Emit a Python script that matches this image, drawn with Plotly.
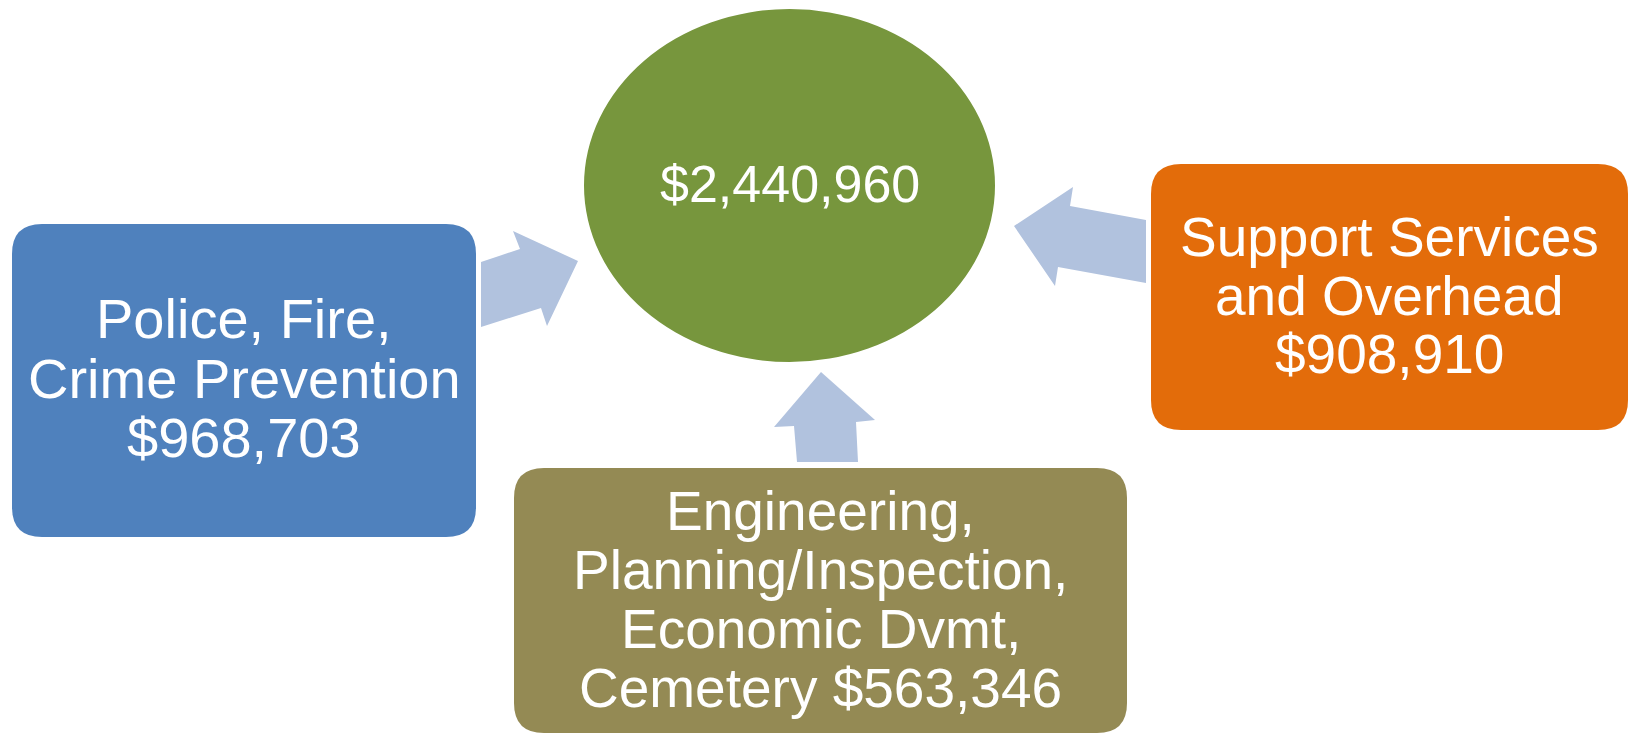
import plotly.graph_objects as go

# ---- data ----
total_label = "$2,440,960"
categories = [
    ["Police, Fire,", "Crime Prevention"],
    ["Support Services", "and Overhead"],
    ["Engineering,", "Planning/Inspection,", "Economic Dvmt,"],
]
amounts = ["$968,703", "$908,910", "$563,346"]

# ---- layout constants (pixels, y down) ----
W, H = 1631, 734
FONT = "Liberation Sans"
box_colors = ["#4F81BD", "#E36C0A", "#948A54"]
ellipse_color = "#77963D"
arrow_color = "#B1C2DE"

boxes = [  # x0, y0, x1, y1
    (12, 224, 476, 537),
    (1151, 164, 1628, 430),
    (514, 468, 1127, 733),
]
ellipse = (584, 9, 995, 362)
box_font_sizes = [56, 55, 55]

# text line centre positions per box
line_y = [
    [318.5, 378, 437],
    [236.5, 295.5, 353.5],
    [511, 569.5, 628.5, 687.5],
]

arrows = [
    [(481, 327), (481, 262), (520, 249), (513, 231), (578, 261), (547, 326), (541, 308)],
    [(1014, 226), (1073, 187), (1070, 206), (1146, 220), (1146, 283), (1058, 267), (1055, 286)],
    [(821, 372), (875, 420), (856, 422), (858, 462), (797, 462), (794, 426), (774, 427)],
]


def rounded_rect(x0, y0, x1, y1, r):
    return (f"M {x0+r},{y0} L {x1-r},{y0} Q {x1},{y0} {x1},{y0+r} "
            f"L {x1},{y1-r} Q {x1},{y1} {x1-r},{y1} L {x0+r},{y1} "
            f"Q {x0},{y1} {x0},{y1-r} L {x0},{y0+r} Q {x0},{y0} {x0+r},{y0} Z")


def poly(pts):
    return "M " + " L ".join(f"{x},{y}" for x, y in pts) + " Z"


fig = go.Figure()
shapes = []
for pts in arrows:
    shapes.append(dict(type="path", path=poly(pts), xref="x", yref="y",
                       fillcolor=arrow_color, line=dict(width=0), layer="below"))
shapes.append(dict(type="circle", xref="x", yref="y",
                   x0=ellipse[0], y0=ellipse[1], x1=ellipse[2], y1=ellipse[3],
                   fillcolor=ellipse_color, line=dict(width=0), layer="below"))
for (x0, y0, x1, y1), c in zip(boxes, box_colors):
    shapes.append(dict(type="path", path=rounded_rect(x0, y0, x1, y1, 30),
                       xref="x", yref="y", fillcolor=c, line=dict(width=0), layer="below"))

annotations = []
for i, (lines, amt) in enumerate(zip(categories, amounts)):
    x0, y0, x1, y1 = boxes[i]
    cx = (x0 + x1) / 2
    if i == 2:
        texts = lines + ["Cemetery " + amt]
    else:
        texts = lines + [amt]
    for t, y in zip(texts, line_y[i]):
        annotations.append(dict(x=cx, y=y, xref="x", yref="y", text=t, showarrow=False,
                                xanchor="center", yanchor="middle",
                                font=dict(family=FONT, size=box_font_sizes[i], color="white")))

annotations.append(dict(x=(ellipse[0] + ellipse[2]) / 2, y=183.5, xref="x", yref="y",
                        text=total_label, showarrow=False, xanchor="center", yanchor="middle",
                        font=dict(family=FONT, size=52, color="white")))

fig.update_layout(
    width=W, height=H, margin=dict(l=0, r=0, t=0, b=0),
    paper_bgcolor="white", plot_bgcolor="white",
    xaxis=dict(range=[0, W], visible=False, fixedrange=True),
    yaxis=dict(range=[H, 0], visible=False, fixedrange=True),
    shapes=shapes, annotations=annotations, showlegend=False,
)

fig.write_html("out.html", config={"displayModeBar": False},
               post_script="document.body.style.margin='0';document.body.style.overflow='hidden';")
